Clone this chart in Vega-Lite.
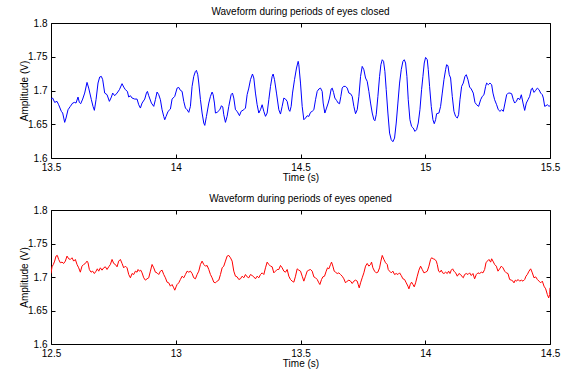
{
  "$schema": "https://vega.github.io/schema/vega-lite/v6.json",
  "background": "white",
  "padding": {"left": 19, "top": 7, "right": 5, "bottom": 5},
  "bounds": "flush",
  "spacing": 52,
  "config": {
    "font": "Liberation Sans",
    "view": {"stroke": null},
    "axis": {
      "labelFont": "Liberation Sans", "labelFontSize": 10, "labelColor": "black",
      "titleFont": "Liberation Sans", "titleFontSize": 10, "titleFontWeight": "normal", "titleColor": "black",
      "domainColor": "black", "domainWidth": 1, "tickColor": "black", "tickWidth": 1,
      "grid": false, "tickSize": -4, "labelPadding": 8, "labelFlush": false, "labelOverlap": false
    },
    "axisY": {"titlePadding": -2},
    "axisX": {"titlePadding": 0},
    "title": {"font": "Liberation Sans", "fontSize": 10, "fontWeight": "normal", "color": "black", "offset": 1}
  },
  "vconcat": [
    {
      "title": "Waveform during periods of eyes closed",
      "width": 499, "height": 135,
      "data": {"values": [
        {"t":13.5000,"v":1.6873},{"t":13.5067,"v":1.6888},{"t":13.5147,"v":1.6824},{"t":13.5241,"v":1.6839},{"t":13.5307,"v":1.6789},{"t":13.5414,"v":1.6691},{"t":13.5468,"v":1.6666},{"t":13.5548,"v":1.6528},{"t":13.5602,"v":1.6592},{"t":13.5682,"v":1.6715},{"t":13.5775,"v":1.6765},{"t":13.5869,"v":1.6814},{"t":13.5949,"v":1.6824},{"t":13.6003,"v":1.6814},{"t":13.6083,"v":1.6903},{"t":13.6136,"v":1.6824},{"t":13.6190,"v":1.6804},{"t":13.6270,"v":1.6873},{"t":13.6350,"v":1.6962},{"t":13.6444,"v":1.7120},{"t":13.6511,"v":1.7036},{"t":13.6618,"v":1.6864},{"t":13.6684,"v":1.6765},{"t":13.6738,"v":1.6706},{"t":13.6805,"v":1.6864},{"t":13.6885,"v":1.7111},{"t":13.6952,"v":1.7200},{"t":13.7019,"v":1.7209},{"t":13.7072,"v":1.7160},{"t":13.7152,"v":1.6962},{"t":13.7246,"v":1.6938},{"t":13.7340,"v":1.6839},{"t":13.7420,"v":1.6903},{"t":13.7473,"v":1.6962},{"t":13.7553,"v":1.6923},{"t":13.7647,"v":1.6962},{"t":13.7741,"v":1.7012},{"t":13.7848,"v":1.7101},{"t":13.7914,"v":1.7051},{"t":13.7981,"v":1.7012},{"t":13.8061,"v":1.6987},{"t":13.8115,"v":1.6903},{"t":13.8182,"v":1.6923},{"t":13.8249,"v":1.6888},{"t":13.8356,"v":1.6873},{"t":13.8449,"v":1.6873},{"t":13.8516,"v":1.6789},{"t":13.8583,"v":1.6740},{"t":13.8650,"v":1.6814},{"t":13.8757,"v":1.6873},{"t":13.8824,"v":1.6962},{"t":13.8864,"v":1.6987},{"t":13.8917,"v":1.6923},{"t":13.9024,"v":1.6814},{"t":13.9118,"v":1.6765},{"t":13.9184,"v":1.6864},{"t":13.9251,"v":1.6977},{"t":13.9318,"v":1.6938},{"t":13.9385,"v":1.6864},{"t":13.9452,"v":1.6715},{"t":13.9519,"v":1.6616},{"t":13.9559,"v":1.6567},{"t":13.9612,"v":1.6616},{"t":13.9692,"v":1.6691},{"t":13.9786,"v":1.6725},{"t":13.9853,"v":1.6873},{"t":13.9960,"v":1.6913},
        {"t":14.0054,"v":1.7036},{"t":14.0120,"v":1.7046},{"t":14.0187,"v":1.7002},{"t":14.0254,"v":1.6987},{"t":14.0321,"v":1.6839},{"t":14.0388,"v":1.6740},{"t":14.0455,"v":1.6715},{"t":14.0522,"v":1.6676},{"t":14.0588,"v":1.6765},{"t":14.0655,"v":1.7061},{"t":14.0722,"v":1.7209},{"t":14.0789,"v":1.7283},{"t":14.0829,"v":1.7298},{"t":14.0883,"v":1.7234},{"t":14.0923,"v":1.7111},{"t":14.0990,"v":1.6864},{"t":14.1056,"v":1.6666},{"t":14.1123,"v":1.6518},{"t":14.1163,"v":1.6483},{"t":14.1230,"v":1.6617},{"t":14.1324,"v":1.6814},{"t":14.1391,"v":1.6913},{"t":14.1457,"v":1.6977},{"t":14.1498,"v":1.6938},{"t":14.1551,"v":1.6814},{"t":14.1591,"v":1.6666},{"t":14.1658,"v":1.6676},{"t":14.1765,"v":1.6715},{"t":14.1832,"v":1.6775},{"t":14.1885,"v":1.6755},{"t":14.1925,"v":1.6641},{"t":14.1992,"v":1.6528},{"t":14.2059,"v":1.6617},{"t":14.2126,"v":1.6765},{"t":14.2219,"v":1.6938},{"t":14.2273,"v":1.6962},{"t":14.2326,"v":1.6888},{"t":14.2393,"v":1.6715},{"t":14.2460,"v":1.6691},{"t":14.2554,"v":1.6627},{"t":14.2620,"v":1.6691},{"t":14.2727,"v":1.6715},{"t":14.2794,"v":1.6740},{"t":14.2861,"v":1.6938},{"t":14.2928,"v":1.7036},{"t":14.2995,"v":1.7160},{"t":14.3075,"v":1.7244},{"t":14.3129,"v":1.7185},{"t":14.3195,"v":1.6962},{"t":14.3262,"v":1.6789},{"t":14.3329,"v":1.6666},{"t":14.3396,"v":1.6715},{"t":14.3463,"v":1.6789},{"t":14.3530,"v":1.6691},{"t":14.3597,"v":1.6617},{"t":14.3663,"v":1.6666},{"t":14.3730,"v":1.6864},{"t":14.3797,"v":1.7061},{"t":14.3864,"v":1.7209},{"t":14.3904,"v":1.7244},{"t":14.3958,"v":1.7160},{"t":14.4038,"v":1.6962},{"t":14.4131,"v":1.6715},{"t":14.4198,"v":1.6651},{"t":14.4265,"v":1.6765},{"t":14.4332,"v":1.6888},{"t":14.4399,"v":1.6873},{"t":14.4466,"v":1.6839},{"t":14.4532,"v":1.6715},{"t":14.4573,"v":1.6691},{"t":14.4626,"v":1.6765},{"t":14.4680,"v":1.6962},{"t":14.4760,"v":1.7160},{"t":14.4840,"v":1.7333},{"t":14.4907,"v":1.7432},
        {"t":14.4933,"v":1.7382},{"t":14.5000,"v":1.7110},{"t":14.5067,"v":1.6765},{"t":14.5134,"v":1.6567},{"t":14.5201,"v":1.6592},{"t":14.5268,"v":1.6626},{"t":14.5334,"v":1.6616},{"t":14.5401,"v":1.6676},{"t":14.5468,"v":1.6691},{"t":14.5535,"v":1.6715},{"t":14.5602,"v":1.6863},{"t":14.5669,"v":1.6987},{"t":14.5736,"v":1.7022},{"t":14.5802,"v":1.7036},{"t":14.5869,"v":1.6987},{"t":14.5909,"v":1.6814},{"t":14.5976,"v":1.6666},{"t":14.6043,"v":1.6740},{"t":14.6110,"v":1.6814},{"t":14.6163,"v":1.6888},{"t":14.6230,"v":1.7022},{"t":14.6270,"v":1.7036},{"t":14.6324,"v":1.6972},{"t":14.6377,"v":1.6888},{"t":14.6444,"v":1.6854},{"t":14.6511,"v":1.6814},{"t":14.6564,"v":1.6804},{"t":14.6618,"v":1.6913},{"t":14.6671,"v":1.7036},{"t":14.6725,"v":1.7061},{"t":14.6805,"v":1.7061},{"t":14.6872,"v":1.7036},{"t":14.6939,"v":1.6962},{"t":14.7006,"v":1.6952},{"t":14.7072,"v":1.6913},{"t":14.7139,"v":1.6765},{"t":14.7206,"v":1.6656},{"t":14.7273,"v":1.6715},{"t":14.7340,"v":1.6913},{"t":14.7407,"v":1.7209},{"t":14.7473,"v":1.7357},{"t":14.7540,"v":1.7308},{"t":14.7607,"v":1.7185},{"t":14.7674,"v":1.7135},{"t":14.7741,"v":1.6987},{"t":14.7808,"v":1.6814},{"t":14.7875,"v":1.6666},{"t":14.7942,"v":1.6567},{"t":14.7982,"v":1.6552},{"t":14.8035,"v":1.6641},{"t":14.8102,"v":1.6913},{"t":14.8169,"v":1.7209},{"t":14.8222,"v":1.7382},{"t":14.8276,"v":1.7456},{"t":14.8329,"v":1.7432},{"t":14.8383,"v":1.7283},{"t":14.8436,"v":1.7012},{"t":14.8503,"v":1.6666},{"t":14.8570,"v":1.6369},{"t":14.8637,"v":1.6271},{"t":14.8703,"v":1.6241},{"t":14.8770,"v":1.6295},{"t":14.8837,"v":1.6518},{"t":14.8904,"v":1.6814},{"t":14.8971,"v":1.7110},{"t":14.9038,"v":1.7308},{"t":14.9105,"v":1.7432},{"t":14.9159,"v":1.7456},{"t":14.9212,"v":1.7407},{"t":14.9265,"v":1.7209},{"t":14.9319,"v":1.6863},{"t":14.9386,"v":1.6567},{"t":14.9452,"v":1.6468},{"t":14.9519,"v":1.6444},{"t":14.9586,"v":1.6394},{"t":14.9653,"v":1.6419},{"t":14.9720,"v":1.6518},{"t":14.9787,"v":1.6715},{"t":14.9853,"v":1.7012},{"t":14.9907,"v":1.7209},{"t":14.9960,"v":1.7407},{"t":15.0014,"v":1.7490},
        {"t":15.0081,"v":1.7456},{"t":15.0121,"v":1.7308},{"t":15.0174,"v":1.7061},{"t":15.0241,"v":1.6765},{"t":15.0308,"v":1.6567},{"t":15.0361,"v":1.6508},{"t":15.0415,"v":1.6567},{"t":15.0455,"v":1.6656},{"t":15.0549,"v":1.6666},{"t":15.0615,"v":1.6765},{"t":15.0682,"v":1.6962},{"t":15.0749,"v":1.7160},{"t":15.0816,"v":1.7308},{"t":15.0856,"v":1.7382},{"t":15.0910,"v":1.7367},{"t":15.0963,"v":1.7234},{"t":15.1016,"v":1.7185},{"t":15.1083,"v":1.6913},{"t":15.1150,"v":1.6691},{"t":15.1217,"v":1.6616},{"t":15.1284,"v":1.6592},{"t":15.1337,"v":1.6641},{"t":15.1391,"v":1.6863},{"t":15.1458,"v":1.7061},{"t":15.1524,"v":1.7110},{"t":15.1591,"v":1.7209},{"t":15.1645,"v":1.7234},{"t":15.1712,"v":1.7160},{"t":15.1778,"v":1.7051},{"t":15.1845,"v":1.7022},{"t":15.1925,"v":1.6962},{"t":15.1992,"v":1.6824},{"t":15.2059,"v":1.6789},{"t":15.2139,"v":1.6765},{"t":15.2220,"v":1.6863},{"t":15.2286,"v":1.6913},{"t":15.2353,"v":1.6937},{"t":15.2420,"v":1.7061},{"t":15.2460,"v":1.7110},{"t":15.2527,"v":1.7086},{"t":15.2594,"v":1.7110},{"t":15.2661,"v":1.7086},{"t":15.2714,"v":1.6962},{"t":15.2781,"v":1.6863},{"t":15.2861,"v":1.6789},{"t":15.2928,"v":1.6715},{"t":15.2995,"v":1.6691},{"t":15.3062,"v":1.6715},{"t":15.3129,"v":1.6691},{"t":15.3196,"v":1.6814},{"t":15.3262,"v":1.6937},{"t":15.3329,"v":1.6962},{"t":15.3396,"v":1.6962},{"t":15.3463,"v":1.6952},{"t":15.3530,"v":1.6863},{"t":15.3584,"v":1.6814},{"t":15.3650,"v":1.6839},{"t":15.3717,"v":1.6888},{"t":15.3784,"v":1.6863},{"t":15.3851,"v":1.6937},{"t":15.3918,"v":1.6814},{"t":15.3985,"v":1.6705},{"t":15.4051,"v":1.6814},{"t":15.4118,"v":1.6863},{"t":15.4185,"v":1.6913},{"t":15.4252,"v":1.7022},{"t":15.4292,"v":1.7036},{"t":15.4359,"v":1.6972},{"t":15.4426,"v":1.7002},{"t":15.4493,"v":1.7036},{"t":15.4560,"v":1.7012},{"t":15.4626,"v":1.6962},{"t":15.4693,"v":1.6937},{"t":15.4733,"v":1.6888},{"t":15.4787,"v":1.6765},{"t":15.4840,"v":1.6775},{"t":15.4894,"v":1.6789},{"t":15.4961,"v":1.6765},{"t":15.5000,"v":1.6775}
      ]},
      "layer": [
        {
          "mark": {"type": "line", "color": "#0000ff", "strokeWidth": 1, "clip": true},
          "encoding": {
            "x": {"field": "t", "type": "quantitative", "scale": {"domain": [13.5, 15.5], "nice": false, "zero": false},
                  "axis": {"title": "Time (s)", "values": [13.5, 14, 14.5, 15, 15.5], "format": "~g"}},
            "y": {"field": "v", "type": "quantitative", "scale": {"domain": [1.6, 1.8], "nice": false, "zero": false},
                  "axis": {"title": "Amplitude (V)", "values": [1.6, 1.65, 1.7, 1.75, 1.8], "format": "~g"}}
          }
        },
        {
          "mark": {"type": "line", "opacity": 0, "clip": true},
          "encoding": {
            "x": {"field": "t", "type": "quantitative", "axis": {"orient": "top", "labels": false, "title": null, "values": [13.5, 14, 14.5, 15, 15.5]}},
            "y": {"field": "v", "type": "quantitative", "axis": {"orient": "right", "labels": false, "title": null, "values": [1.6, 1.65, 1.7, 1.75, 1.8]}}
          }
        }
      ],
      "resolve": {"axis": {"x": "independent", "y": "independent"}}
    },
    {
      "title": "Waveform during periods of eyes opened",
      "width": 499, "height": 134,
      "data": {"values": [
        {"t":12.5000,"v":1.7052},{"t":12.5040,"v":1.7152},{"t":12.5094,"v":1.7187},{"t":12.5147,"v":1.7237},{"t":12.5201,"v":1.7312},{"t":12.5254,"v":1.7322},{"t":12.5307,"v":1.7262},{"t":12.5374,"v":1.7212},{"t":12.5441,"v":1.7222},{"t":12.5508,"v":1.7202},{"t":12.5575,"v":1.7237},{"t":12.5642,"v":1.7312},{"t":12.5709,"v":1.7272},{"t":12.5775,"v":1.7262},{"t":12.5842,"v":1.7287},{"t":12.5909,"v":1.7237},{"t":12.5976,"v":1.7262},{"t":12.6043,"v":1.7187},{"t":12.6110,"v":1.7137},{"t":12.6176,"v":1.7072},{"t":12.6243,"v":1.7162},{"t":12.6310,"v":1.7187},{"t":12.6377,"v":1.7202},{"t":12.6444,"v":1.7237},{"t":12.6484,"v":1.7212},{"t":12.6537,"v":1.7112},{"t":12.6604,"v":1.7072},{"t":12.6671,"v":1.7087},{"t":12.6738,"v":1.7052},{"t":12.6805,"v":1.7087},{"t":12.6858,"v":1.7122},{"t":12.6912,"v":1.7087},{"t":12.6979,"v":1.7137},{"t":12.7045,"v":1.7102},{"t":12.7112,"v":1.7137},{"t":12.7179,"v":1.7152},{"t":12.7246,"v":1.7112},{"t":12.7313,"v":1.7152},{"t":12.7380,"v":1.7187},{"t":12.7447,"v":1.7262},{"t":12.7513,"v":1.7202},{"t":12.7580,"v":1.7187},{"t":12.7647,"v":1.7152},{"t":12.7714,"v":1.7237},{"t":12.7781,"v":1.7262},{"t":12.7848,"v":1.7202},{"t":12.7914,"v":1.7137},{"t":12.7981,"v":1.7162},{"t":12.8048,"v":1.7137},{"t":12.8115,"v":1.7037},{"t":12.8182,"v":1.6988},{"t":12.8249,"v":1.7052},{"t":12.8316,"v":1.7037},{"t":12.8382,"v":1.7087},{"t":12.8449,"v":1.7072},{"t":12.8489,"v":1.7112},{"t":12.8543,"v":1.7087},{"t":12.8596,"v":1.7102},{"t":12.8650,"v":1.7062},{"t":12.8717,"v":1.6988},{"t":12.8783,"v":1.6953},{"t":12.8850,"v":1.6973},{"t":12.8917,"v":1.6988},{"t":12.8984,"v":1.7087},{"t":12.9051,"v":1.7187},{"t":12.9118,"v":1.7137},{"t":12.9184,"v":1.7072},{"t":12.9251,"v":1.7062},{"t":12.9318,"v":1.7037},{"t":12.9385,"v":1.7087},{"t":12.9452,"v":1.7102},{"t":12.9519,"v":1.7037},{"t":12.9586,"v":1.6988},{"t":12.9652,"v":1.6923},{"t":12.9719,"v":1.6913},{"t":12.9786,"v":1.6863},{"t":12.9853,"v":1.6888},{"t":12.9920,"v":1.6838},{"t":12.9960,"v":1.6803},{"t":13.0013,"v":1.6853},
        {"t":13.0054,"v":1.6888},{"t":13.0120,"v":1.6913},{"t":13.0187,"v":1.6963},{"t":13.0254,"v":1.7012},{"t":13.0321,"v":1.6988},{"t":13.0388,"v":1.7037},{"t":13.0455,"v":1.7087},{"t":13.0522,"v":1.7072},{"t":13.0588,"v":1.7087},{"t":13.0655,"v":1.7052},{"t":13.0722,"v":1.6988},{"t":13.0789,"v":1.6973},{"t":13.0856,"v":1.7037},{"t":13.0923,"v":1.7087},{"t":13.0990,"v":1.7187},{"t":13.1056,"v":1.7237},{"t":13.1123,"v":1.7187},{"t":13.1190,"v":1.7162},{"t":13.1257,"v":1.7172},{"t":13.1324,"v":1.7112},{"t":13.1391,"v":1.7037},{"t":13.1457,"v":1.6988},{"t":13.1524,"v":1.6923},{"t":13.1591,"v":1.6913},{"t":13.1658,"v":1.6938},{"t":13.1725,"v":1.6953},{"t":13.1792,"v":1.7037},{"t":13.1859,"v":1.7137},{"t":13.1925,"v":1.7162},{"t":13.1992,"v":1.7237},{"t":13.2059,"v":1.7312},{"t":13.2126,"v":1.7322},{"t":13.2193,"v":1.7287},{"t":13.2260,"v":1.7237},{"t":13.2326,"v":1.7087},{"t":13.2393,"v":1.7012},{"t":13.2460,"v":1.7002},{"t":13.2527,"v":1.6963},{"t":13.2594,"v":1.6973},{"t":13.2661,"v":1.7012},{"t":13.2727,"v":1.6988},{"t":13.2794,"v":1.7037},{"t":13.2861,"v":1.7002},{"t":13.2928,"v":1.6988},{"t":13.2995,"v":1.7037},{"t":13.3062,"v":1.7022},{"t":13.3129,"v":1.7002},{"t":13.3195,"v":1.6973},{"t":13.3262,"v":1.7012},{"t":13.3329,"v":1.6988},{"t":13.3396,"v":1.7037},{"t":13.3463,"v":1.7062},{"t":13.3530,"v":1.7037},{"t":13.3597,"v":1.7137},{"t":13.3663,"v":1.7222},{"t":13.3730,"v":1.7187},{"t":13.3797,"v":1.7162},{"t":13.3864,"v":1.7152},{"t":13.3931,"v":1.7062},{"t":13.3998,"v":1.7087},{"t":13.4064,"v":1.7112},{"t":13.4131,"v":1.7112},{"t":13.4198,"v":1.7172},{"t":13.4265,"v":1.7137},{"t":13.4332,"v":1.7087},{"t":13.4399,"v":1.7072},{"t":13.4466,"v":1.7112},{"t":13.4532,"v":1.7012},{"t":13.4599,"v":1.6963},{"t":13.4666,"v":1.6938},{"t":13.4733,"v":1.6923},{"t":13.4800,"v":1.7012},{"t":13.4867,"v":1.7122},
        {"t":13.4933,"v":1.7102},{"t":13.5000,"v":1.7087},{"t":13.5067,"v":1.7012},{"t":13.5134,"v":1.6938},{"t":13.5201,"v":1.7012},{"t":13.5268,"v":1.7087},{"t":13.5334,"v":1.7102},{"t":13.5401,"v":1.7112},{"t":13.5468,"v":1.7087},{"t":13.5535,"v":1.7002},{"t":13.5602,"v":1.6988},{"t":13.5669,"v":1.6963},{"t":13.5736,"v":1.6913},{"t":13.5776,"v":1.6888},{"t":13.5843,"v":1.6963},{"t":13.5896,"v":1.7002},{"t":13.5963,"v":1.7012},{"t":13.6030,"v":1.7087},{"t":13.6083,"v":1.7137},{"t":13.6137,"v":1.7122},{"t":13.6204,"v":1.7187},{"t":13.6244,"v":1.7222},{"t":13.6297,"v":1.7162},{"t":13.6351,"v":1.7087},{"t":13.6404,"v":1.7072},{"t":13.6471,"v":1.7052},{"t":13.6538,"v":1.7062},{"t":13.6605,"v":1.7037},{"t":13.6671,"v":1.7012},{"t":13.6738,"v":1.6973},{"t":13.6805,"v":1.6913},{"t":13.6872,"v":1.6938},{"t":13.6939,"v":1.6953},{"t":13.7006,"v":1.6938},{"t":13.7072,"v":1.6903},{"t":13.7139,"v":1.6938},{"t":13.7206,"v":1.6953},{"t":13.7273,"v":1.6938},{"t":13.7313,"v":1.6888},{"t":13.7353,"v":1.6838},{"t":13.7407,"v":1.6913},{"t":13.7473,"v":1.6988},{"t":13.7540,"v":1.7062},{"t":13.7607,"v":1.7162},{"t":13.7674,"v":1.7202},{"t":13.7741,"v":1.7162},{"t":13.7808,"v":1.7187},{"t":13.7848,"v":1.7222},{"t":13.7901,"v":1.7137},{"t":13.7968,"v":1.7087},{"t":13.8035,"v":1.7062},{"t":13.8102,"v":1.7072},{"t":13.8169,"v":1.7137},{"t":13.8222,"v":1.7237},{"t":13.8276,"v":1.7322},{"t":13.8343,"v":1.7262},{"t":13.8409,"v":1.7212},{"t":13.8476,"v":1.7187},{"t":13.8516,"v":1.7112},{"t":13.8570,"v":1.7087},{"t":13.8637,"v":1.7062},{"t":13.8703,"v":1.7087},{"t":13.8770,"v":1.7037},{"t":13.8837,"v":1.7052},{"t":13.8904,"v":1.7037},{"t":13.8971,"v":1.7062},{"t":13.9038,"v":1.7022},{"t":13.9105,"v":1.6973},{"t":13.9171,"v":1.6963},{"t":13.9238,"v":1.6913},{"t":13.9305,"v":1.6863},{"t":13.9345,"v":1.6823},{"t":13.9399,"v":1.6888},{"t":13.9452,"v":1.6923},{"t":13.9506,"v":1.6888},{"t":13.9559,"v":1.6853},{"t":13.9613,"v":1.6913},{"t":13.9680,"v":1.7012},{"t":13.9746,"v":1.7102},{"t":13.9813,"v":1.7162},{"t":13.9880,"v":1.7112},{"t":13.9947,"v":1.7062},
        {"t":14.0014,"v":1.7072},{"t":14.0081,"v":1.7087},{"t":14.0147,"v":1.7162},{"t":14.0214,"v":1.7262},{"t":14.0254,"v":1.7287},{"t":14.0321,"v":1.7272},{"t":14.0388,"v":1.7262},{"t":14.0442,"v":1.7237},{"t":14.0482,"v":1.7187},{"t":14.0535,"v":1.7087},{"t":14.0589,"v":1.7072},{"t":14.0642,"v":1.7102},{"t":14.0696,"v":1.7062},{"t":14.0749,"v":1.7052},{"t":14.0816,"v":1.7072},{"t":14.0883,"v":1.7052},{"t":14.0936,"v":1.7087},{"t":14.0990,"v":1.7052},{"t":14.1043,"v":1.7102},{"t":14.1097,"v":1.7122},{"t":14.1150,"v":1.7087},{"t":14.1217,"v":1.7062},{"t":14.1284,"v":1.7012},{"t":14.1351,"v":1.7052},{"t":14.1418,"v":1.7037},{"t":14.1484,"v":1.7002},{"t":14.1524,"v":1.6988},{"t":14.1578,"v":1.7037},{"t":14.1645,"v":1.7052},{"t":14.1712,"v":1.7037},{"t":14.1779,"v":1.7062},{"t":14.1845,"v":1.7022},{"t":14.1912,"v":1.7052},{"t":14.1979,"v":1.6973},{"t":14.2046,"v":1.7037},{"t":14.2113,"v":1.7062},{"t":14.2180,"v":1.7052},{"t":14.2247,"v":1.7072},{"t":14.2313,"v":1.7062},{"t":14.2380,"v":1.7112},{"t":14.2434,"v":1.7212},{"t":14.2487,"v":1.7237},{"t":14.2554,"v":1.7262},{"t":14.2621,"v":1.7222},{"t":14.2661,"v":1.7272},{"t":14.2714,"v":1.7237},{"t":14.2781,"v":1.7187},{"t":14.2848,"v":1.7162},{"t":14.2915,"v":1.7087},{"t":14.2982,"v":1.7122},{"t":14.3049,"v":1.7162},{"t":14.3115,"v":1.7137},{"t":14.3182,"v":1.7087},{"t":14.3249,"v":1.7062},{"t":14.3316,"v":1.7052},{"t":14.3383,"v":1.6963},{"t":14.3450,"v":1.6953},{"t":14.3516,"v":1.6938},{"t":14.3556,"v":1.6913},{"t":14.3610,"v":1.6953},{"t":14.3663,"v":1.6938},{"t":14.3717,"v":1.6963},{"t":14.3784,"v":1.6938},{"t":14.3851,"v":1.6953},{"t":14.3918,"v":1.6938},{"t":14.3985,"v":1.6963},{"t":14.4038,"v":1.7012},{"t":14.4091,"v":1.7037},{"t":14.4158,"v":1.7087},{"t":14.4225,"v":1.7122},{"t":14.4292,"v":1.7062},{"t":14.4359,"v":1.6988},{"t":14.4426,"v":1.7002},{"t":14.4493,"v":1.6963},{"t":14.4560,"v":1.6938},{"t":14.4626,"v":1.6913},{"t":14.4693,"v":1.6938},{"t":14.4760,"v":1.6863},{"t":14.4827,"v":1.6823},{"t":14.4894,"v":1.6738},{"t":14.4947,"v":1.6688},{"t":14.4987,"v":1.6738},{"t":14.5000,"v":1.6838}
      ]},
      "layer": [
        {
          "mark": {"type": "line", "color": "#ff0000", "strokeWidth": 1, "clip": true},
          "encoding": {
            "x": {"field": "t", "type": "quantitative", "scale": {"domain": [12.5, 14.5], "nice": false, "zero": false},
                  "axis": {"title": "Time (s)", "values": [12.5, 13, 13.5, 14, 14.5], "format": "~g"}},
            "y": {"field": "v", "type": "quantitative", "scale": {"domain": [1.6, 1.8], "nice": false, "zero": false},
                  "axis": {"title": "Amplitude (V)", "values": [1.6, 1.65, 1.7, 1.75, 1.8], "format": "~g"}}
          }
        },
        {
          "mark": {"type": "line", "opacity": 0, "clip": true},
          "encoding": {
            "x": {"field": "t", "type": "quantitative", "axis": {"orient": "top", "labels": false, "title": null, "values": [12.5, 13, 13.5, 14, 14.5]}},
            "y": {"field": "v", "type": "quantitative", "axis": {"orient": "right", "labels": false, "title": null, "values": [1.6, 1.65, 1.7, 1.75, 1.8]}}
          }
        }
      ],
      "resolve": {"axis": {"x": "independent", "y": "independent"}}
    }
  ]
}
